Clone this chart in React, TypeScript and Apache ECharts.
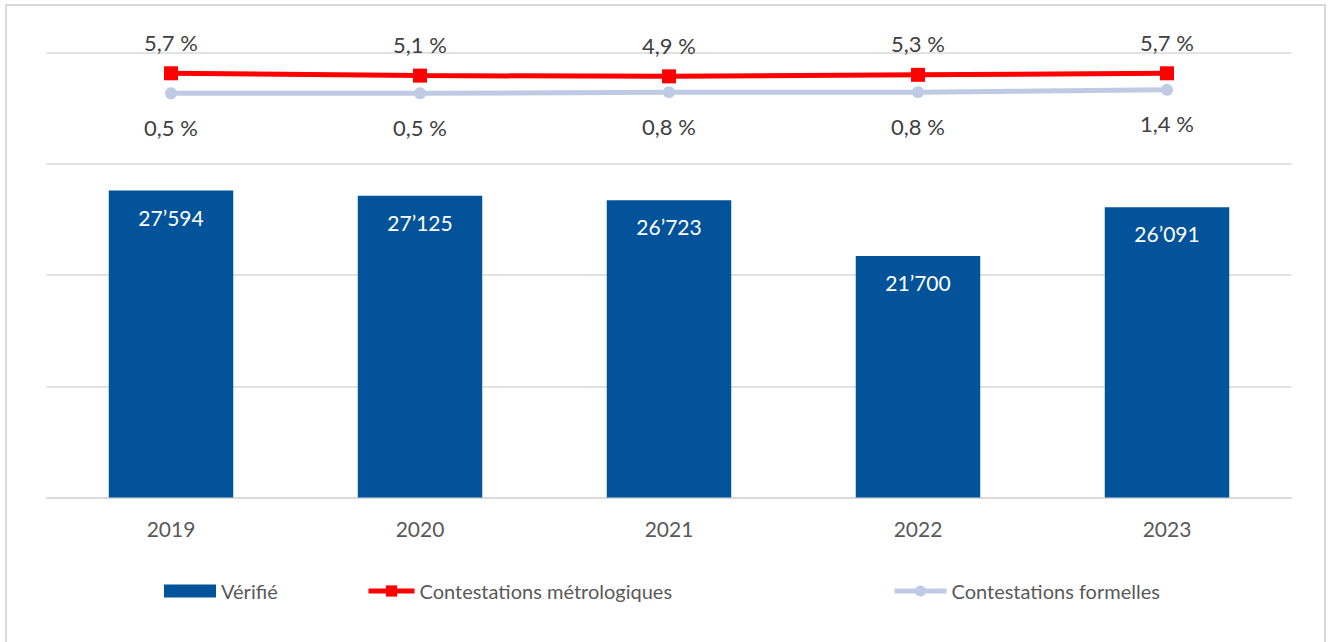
import React, { useEffect, useRef } from "react";
import * as echarts from "echarts";

const categories = ["2019", "2020", "2021", "2022", "2023"];
const verifie = [27594, 27125, 26723, 21700, 26091];
const metrologiques = [5.7, 5.1, 4.9, 5.3, 5.7];
const formelles = [0.5, 0.5, 0.8, 0.8, 1.4];
const seriesNames = ["Vérifié", "Contestations métrologiques", "Contestations formelles"];

const FONT = "Lato, 'Noto Sans', sans-serif";
const BAR_COLOR = "#02539A";
const RED = "#FF0000";
const LIGHT = "#BFCBE4";

const fmtThousands = (v: number) =>
  String(Math.round(v)).replace(/\B(?=(\d{3})+(?!\d))/g, "\u2019");
const fmtPct = (v: number) => v.toFixed(1).replace(".", ",") + " %";

export default function App() {
  const ref = useRef<HTMLDivElement>(null);
  useEffect(() => {
    if (!ref.current) return;
    const chart = echarts.init(ref.current, undefined, { renderer: "svg" });
    const legendText = { color: "#595959", fontSize: 20, fontFamily: FONT };
    chart.setOption({
      animation: false,
      backgroundColor: "#ffffff",
      textStyle: { fontFamily: FONT },
      graphic: [
        {
          type: "rect",
          shape: { x: 6, y: 5, width: 1319, height: 700 },
          style: { fill: "none", stroke: "#D9D9D9", lineWidth: 2 },
          silent: true,
        },
      ],
      grid: {
        left: 46.5,
        top: 52.5,
        width: 1245,
        height: 445,
        containLabel: false,
        outerBoundsMode: "none",
      },
      legend: [
        {
          data: [{ name: seriesNames[0], icon: "rect" }],
          left: 164,
          top: 581,
          padding: 0,
          itemWidth: 52,
          itemHeight: 13,
          textStyle: legendText,
          selectedMode: false,
        },
        {
          data: [
            {
              name: seriesNames[1],
              lineStyle: { color: RED, width: 5 },
              itemStyle: { color: RED },
            },
          ],
          left: 366,
          top: 581,
          padding: 0,
          itemWidth: 46,
          itemHeight: 14,
          textStyle: legendText,
          selectedMode: false,
        },
        {
          data: [
            {
              name: seriesNames[2],
              lineStyle: { color: LIGHT, width: 5 },
              itemStyle: { color: LIGHT },
            },
          ],
          left: 892,
          top: 581,
          padding: 0,
          itemWidth: 52,
          itemHeight: 14,
          textStyle: legendText,
          selectedMode: false,
        },
      ],
      xAxis: {
        type: "category",
        data: categories,
        axisLine: { show: true, lineStyle: { color: "#D9D9D9", width: 1.5 } },
        axisTick: { show: false },
        axisLabel: { color: "#595959", fontSize: 21, margin: 20, fontFamily: FONT },
      },
      yAxis: [
        {
          type: "value",
          min: 0,
          max: 40000,
          interval: 10000,
          axisLabel: { show: false },
          axisLine: { show: false },
          axisTick: { show: false },
          splitLine: { show: true, lineStyle: { color: "#D9D9D9", width: 1.5 } },
        },
        {
          type: "value",
          min: -104.5,
          max: 11.1,
          show: false,
          splitLine: { show: false },
        },
      ],
      series: [
        {
          name: seriesNames[0],
          type: "bar",
          data: verifie,
          barWidth: "50%",
          itemStyle: { color: BAR_COLOR },
          label: {
            show: true,
            position: "insideTop",
            distance: 16,
            color: "#ffffff",
            fontSize: 21,
            fontFamily: FONT,
            formatter: (p: any) => fmtThousands(p.value),
          },
        },
        {
          name: seriesNames[1],
          type: "line",
          yAxisIndex: 1,
          data: metrologiques,
          symbol: "rect",
          symbolSize: 14,
          lineStyle: { color: RED, width: 5 },
          itemStyle: { color: RED },
          label: {
            show: true,
            position: "top",
            distance: 13,
            color: "#404040",
            fontSize: 22,
            fontFamily: FONT,
            formatter: (p: any) => fmtPct(p.value),
          },
          z: 4,
        },
        {
          name: seriesNames[2],
          type: "line",
          yAxisIndex: 1,
          data: formelles,
          symbol: "circle",
          symbolSize: 12,
          lineStyle: { color: LIGHT, width: 5 },
          itemStyle: { color: LIGHT },
          label: {
            show: true,
            position: "bottom",
            distance: 17,
            color: "#404040",
            fontSize: 22,
            fontFamily: FONT,
            formatter: (p: any) => fmtPct(p.value),
          },
          z: 3,
        },
      ],
    });
    return () => chart.dispose();
  }, []);
  return (
    <div
      ref={ref}
      style={{ position: "absolute", left: 0, top: 0, width: 1330, height: 642 }}
    />
  );
}
